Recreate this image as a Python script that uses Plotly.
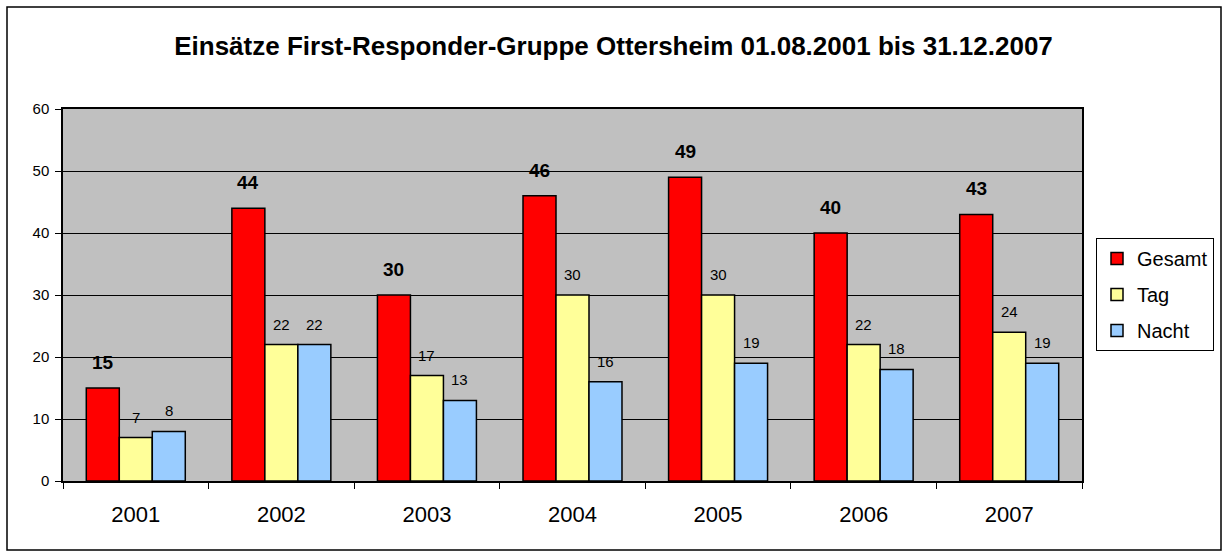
import plotly.graph_objects as go

years = ["2001", "2002", "2003", "2004", "2005", "2006", "2007"]
gesamt = [15, 44, 30, 46, 49, 40, 43]
tag = [7, 22, 17, 30, 30, 22, 24]
nacht = [8, 22, 13, 16, 19, 18, 19]

series = [
    ("Gesamt", gesamt, "#FF0000"),
    ("Tag", tag, "#FFFF99"),
    ("Nacht", nacht, "#99CCFF"),
]

fig = go.Figure()
for name, vals, color in series:
    fig.add_trace(go.Bar(
        x=years, y=vals, name=name, legendgroup=name,
        marker=dict(color=color, line=dict(color="black", width=1.5)),
    ))

W = 1019
offsets = [-1, 0, 1]
annotations = []
for (name, vals, color), off in zip(series, offsets):
    for i, v in enumerate(vals):
        bold = name == "Gesamt"
        annotations.append(dict(
            x=i + off * 0.227, y=v, xref="x", yref="y",
            text=f"<b>{v}</b>" if bold else str(v),
            showarrow=False, yanchor="bottom",
            yshift=13 if bold else 10,
            font=dict(size=19 if bold else 15, color="black",
                      family="Liberation Sans, Arial, sans-serif"),
        ))

fig.update_layout(
    width=1227, height=557,
    margin=dict(l=63, r=145, t=109, b=76),
    paper_bgcolor="white",
    plot_bgcolor="#C0C0C0",
    barmode="group", bargap=0.32, bargroupgap=0,
    font=dict(family="Liberation Sans, Arial, sans-serif", color="black"),
    title=dict(text="<b>Einsätze First-Responder-Gruppe Ottersheim 01.08.2001 bis 31.12.2007</b>",
               x=0.5, xanchor="center", y=0.918, yanchor="middle",
               font=dict(size=26, color="black")),
    showlegend=True,
    legend=dict(x=(1096 - 63) / W, y=(481 - 238) / 372, xanchor="left", yanchor="top",
                bgcolor="white", bordercolor="black", borderwidth=1,
                font=dict(size=20, color="black"), tracegroupgap=7,
                itemwidth=30),
    xaxis=dict(type="category", showline=True, linecolor="black", linewidth=1.5,
               mirror=True, ticks="outside", tickson="boundaries", ticklen=6,
               tickcolor="black", tickfont=dict(size=22), showgrid=False,
               ticklabelstandoff=13, range=[-0.5, 6.5]),
    yaxis=dict(range=[0, 60], dtick=10, showline=True, linecolor="black", linewidth=1.5,
               mirror=True, ticks="outside", ticklen=6, tickcolor="black",
               tickfont=dict(size=15), showgrid=True, gridcolor="black", gridwidth=1,
               ticklabelstandoff=3, zeroline=False),
    annotations=annotations,
    shapes=[dict(type="rect", xref="paper", yref="paper",
                 x0=(7 - 63) / W, x1=(1221 - 63) / W,
                 y0=(481 - 550) / 372, y1=(481 - 7) / 372,
                 line=dict(color="black", width=1.5), fillcolor="rgba(0,0,0,0)",
                 layer="below")],
)

fig.write_html("out.html", config={"displayModeBar": False},
               post_script="document.body.style.margin='0';")
